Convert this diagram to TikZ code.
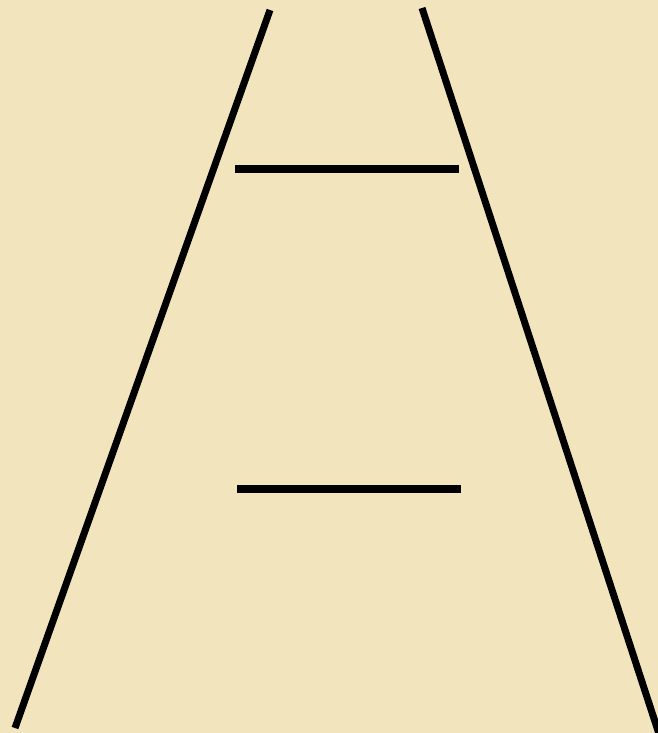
\documentclass[tikz,border=0pt]{standalone}
\usepackage{tikz}

\definecolor{parchment}{RGB}{242,228,188}

\begin{document}
\begin{tikzpicture}[
  x=1pt, y=-1pt,
  rail/.style={draw=black, line width=7pt},
  bar/.style={draw=black, line width=8pt}
]
% background
\fill[parchment] (0,0) rectangle (658,733);
\useasboundingbox (0,0) rectangle (658,733);

% converging rails
\coordinate (lt) at (270,10);
\coordinate (lb) at (15,728);
\coordinate (rt) at (422,8);
\coordinate (rb) at (661,740);
\draw[rail] (lt) -- (lb);
\begin{scope}
  \clip (0,0) rectangle (658,733);
  \draw[rail] (rt) -- (rb);
\end{scope}

% equal bars
\coordinate (ta) at (235,169);
\coordinate (tb) at (459,169);
\coordinate (ba) at (237,489);
\coordinate (bb) at (461,489);
\draw[bar] (ta) -- (tb);
\draw[bar] (ba) -- (bb);
\end{tikzpicture}
\end{document}
